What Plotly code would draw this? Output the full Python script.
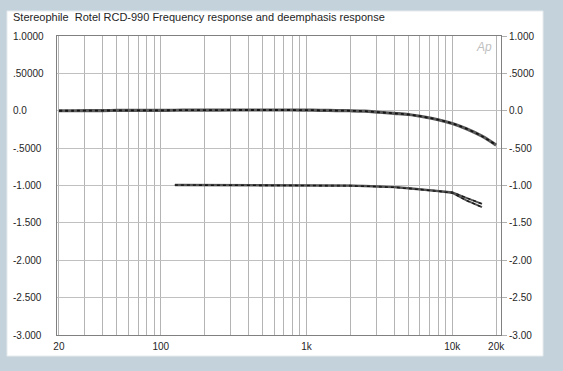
import math
import plotly.graph_objects as go

# ---------------- data ----------------
title_text = "Stereophile  Rotel RCD-990 Frequency response and deemphasis response"

freq_main = [20, 25, 31.5, 40, 50, 63, 80, 100, 125, 160, 200, 250, 315, 400, 500, 630,
             800, 1000, 1250, 1600, 2000, 2500, 3150, 4000, 5000, 6300, 8000, 10000,
             12500, 16000, 20000]
resp_main = [0.0, 0.0, 0.002, 0.003, 0.004, 0.005, 0.006, 0.006, 0.007, 0.008, 0.008, 0.009,
             0.01, 0.01, 0.01, 0.01, 0.01, 0.008, 0.006, 0.003, 0.0, -0.006, -0.02, -0.035,
             -0.05, -0.08, -0.12, -0.17, -0.24, -0.34, -0.46]

freq_deemph = [125, 160, 200, 250, 315, 400, 500, 630, 800, 1000, 1250, 1600, 2000, 2500,
               3150, 4000, 5000, 6300, 8000, 10000, 12500, 16000]
deemph_left = [-0.99, -0.99, -0.99, -0.99, -0.99, -0.99, -0.99, -0.992, -0.994, -0.995,
               -0.997, -1.0, -1.0, -1.005, -1.01, -1.02, -1.035, -1.05, -1.07, -1.09,
               -1.165, -1.245]
deemph_right = [-0.995, -0.995, -0.995, -0.995, -0.995, -0.995, -0.995, -0.997, -0.998,
                -1.0, -1.0, -1.003, -1.005, -1.01, -1.015, -1.025, -1.04, -1.056, -1.078,
                -1.10, -1.20, -1.29]

x_grid = [20, 30, 40, 50, 60, 70, 80, 90, 100, 200, 300, 400, 500, 600, 700, 800, 900,
          1000, 2000, 3000, 4000, 5000, 6000, 7000, 8000, 9000, 10000, 20000]
x_labels = {20: "20", 100: "100", 1000: "1k", 10000: "10k", 20000: "20k"}

y_vals = [1.0, 0.5, 0.0, -0.5, -1.0, -1.5, -2.0, -2.5, -3.0]
y_left_labels = ["1.0000", ".50000", "0.0", "-.5000", "-1.000", "-1.500", "-2.000", "-2.500", "-3.000"]
y_right_labels = ["1.000", ".5000", "0.0", "-.500", "-1.00", "-1.50", "-2.00", "-2.50", "-3.00"]

# ---------------- figure ----------------
W, H = 563, 371
L, R, T, B = 57, 62, 36, 36
pw, ph = W - L - R, H - T - B

def px_to_paper_x(px):
    return (px - L) / pw

def py_to_paper_y(py):
    return (H - B - py) / ph

FONT = "Liberation Sans, Arial, Helvetica, sans-serif"
TXT = "#262626"

fig = go.Figure()

# upper curve: thick grey with dark dotted texture
fig.add_trace(go.Scatter(x=freq_main, y=resp_main, mode="lines",
                         line=dict(color="#5a5a5a", width=3.2, shape="spline"),
                         hoverinfo="skip", showlegend=False))
fig.add_trace(go.Scatter(x=freq_main, y=resp_main, mode="lines",
                         line=dict(color="#151515", width=1.8, dash="dot", shape="spline"),
                         hoverinfo="skip", showlegend=False))

# deemphasis curves (two channels)
for ys in (deemph_left, deemph_right):
    fig.add_trace(go.Scatter(x=freq_deemph, y=ys, mode="lines",
                             line=dict(color="#555555", width=2.0),
                             hoverinfo="skip", showlegend=False))
    fig.add_trace(go.Scatter(x=freq_deemph, y=ys, mode="lines",
                             line=dict(color="#151515", width=1.3, dash="dot"),
                             hoverinfo="skip", showlegend=False))

xr = [math.log10(19.4), math.log10(21600)]

fig.update_xaxes(type="log", range=xr,
                 tickvals=x_grid,
                 ticktext=[x_labels.get(v, "") for v in x_grid],
                 showgrid=True, gridcolor="#b4b4b4", gridwidth=1,
                 showline=True, linecolor="#808080", linewidth=1, mirror=True,
                 ticks="", zeroline=False,
                 tickfont=dict(family=FONT, size=10, color=TXT),
                 ticklabelstandoff=2)
fig.update_yaxes(range=[-3, 1], tickvals=y_vals, showticklabels=False,
                 showgrid=True, gridcolor="#c0c0c0", gridwidth=1,
                 showline=True, linecolor="#808080", linewidth=1, mirror=True,
                 side="right", ticks="outside", ticklen=5, tickcolor="#b0b0b0",
                 zeroline=False)

annotations = []
for v, t in zip(y_vals, y_left_labels):
    annotations.append(dict(x=px_to_paper_x(11), y=v, xref="paper", yref="y", text=t,
                            showarrow=False, xanchor="left", yanchor="middle",
                            font=dict(family=FONT, size=10, color=TXT)))
for v, t in zip(y_vals, y_right_labels):
    annotations.append(dict(x=px_to_paper_x(507), y=v, xref="paper", yref="y", text=t,
                            showarrow=False, xanchor="left", yanchor="middle",
                            font=dict(family=FONT, size=10, color=TXT)))
annotations.append(dict(x=px_to_paper_x(11), y=py_to_paper_y(17), xref="paper", yref="paper",
                        text=title_text, showarrow=False, xanchor="left", yanchor="middle",
                        font=dict(family=FONT, size=11, color="#1e1e1e")))
annotations.append(dict(x=px_to_paper_x(484), y=py_to_paper_y(47), xref="paper", yref="paper",
                        text="<i>Ap</i>", showarrow=False, xanchor="center", yanchor="middle",
                        font=dict(family=FONT, size=12, color="#c0c0c0")))

shapes = [dict(type="rect", xref="paper", yref="paper",
               x0=px_to_paper_x(7), x1=px_to_paper_x(543),
               y0=py_to_paper_y(356), y1=py_to_paper_y(11),
               fillcolor="white", line=dict(color="#e6ebee", width=1), layer="below")]

fig.update_layout(width=W, height=H,
                  margin=dict(l=L, r=R, t=T, b=B, pad=0),
                  paper_bgcolor="#c4d2db", plot_bgcolor="white",
                  annotations=annotations, shapes=shapes,
                  showlegend=False, hovermode=False)

fig.write_html("out.html",
               config={"displayModeBar": False, "staticPlot": True},
               post_script="document.body.style.margin='0px';document.body.style.overflow='hidden';")
